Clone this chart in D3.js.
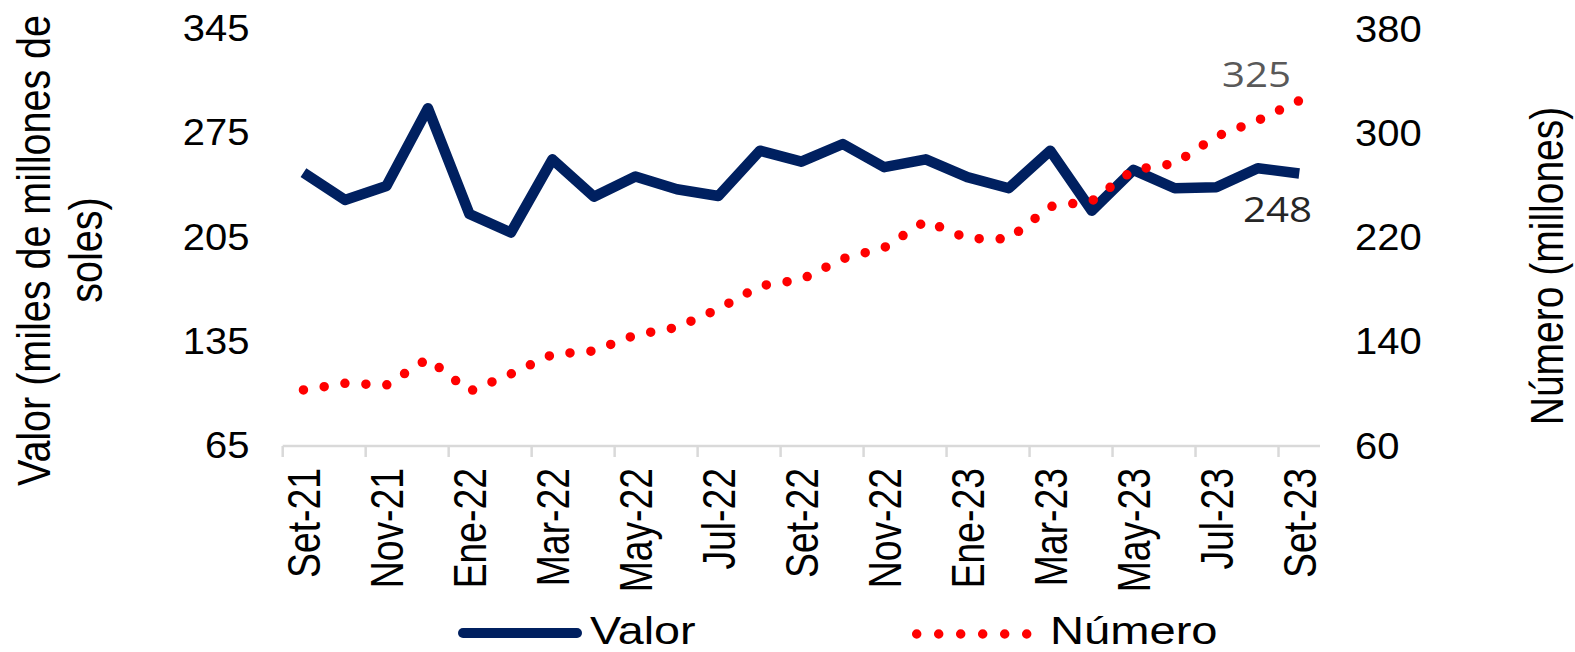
<!DOCTYPE html>
<html>
<head>
<meta charset="utf-8">
<script src="https://cdn.jsdelivr.net/npm/d3@7.9.0/dist/d3.min.js"></script>
<style>
  html, body { margin: 0; padding: 0; background: #fff; }
  svg { display: block; font-family: "Liberation Sans", Arial, sans-serif; }
</style>
</head>
<body>
<svg id="chart" width="1575" height="652"></svg>
<script>
// ====== DATA ======

const months = ['Set-21', 'Oct-21', 'Nov-21', 'Dic-21', 'Ene-22', 'Feb-22', 'Mar-22', 'Abr-22',
  'May-22', 'Jun-22', 'Jul-22', 'Ago-22', 'Set-22', 'Oct-22', 'Nov-22', 'Dic-22', 'Ene-23',
  'Feb-23', 'Mar-23', 'Abr-23', 'May-23', 'Jun-23', 'Jul-23', 'Ago-23', 'Set-23'];

// miles de millones de soles (eje izquierdo)
const valor = [248.5, 230.2, 239.6, 291.8, 220.8, 208.3, 257.5, 232.4, 245.9, 237.4, 232.9, 263.3,
  255.9, 267.8, 252.2, 257.5, 245.5, 238.1, 263.3, 223.0, 250.4, 238.1, 238.7, 251.5, 248];

// millones de operaciones (eje derecho)
const numero = [103, 108.1, 106.8, 127, 101.9, 115.3, 130.2, 133, 145.2, 151, 165.1, 182.8,
  187.8, 203.7, 212.3, 232.7, 219.2, 218.9, 243.8, 248, 271.8, 276.8, 297.5, 309.8, 325];

const leftTicks = [65, 135, 205, 275, 345];
const rightTicks = [60, 140, 220, 300, 380];

// ====== SCALES ======

const svg = d3.select('#chart');

const x = d3.scaleBand().domain(months).range([282.7, 1320]).padding(0);
const yL = d3.scaleLinear().domain([65, 345]).range([446, 29]);
const yR = d3.scaleLinear().domain([60, 380]).range([446, 29]);
const cx = (m) => x(m) + x.bandwidth() / 2;

// text with a horizontal stretch (the source picture is wider than tall)
function stretched(g, px, py, sx, rotate) {
  return g.append('text')
    .attr('transform', `translate(${px},${py}) scale(${sx},1)` + (rotate ? ' rotate(-90)' : ''));
}

// ====== X AXIS ======

const axis = svg.append('g');
axis.append('line')
  .attr('x1', x.range()[0]).attr('x2', x.range()[1])
  .attr('y1', 446).attr('y2', 446)
  .attr('stroke', '#d9d9d9').attr('stroke-width', 2.5);

const shown = months.filter((d, i) => i % 2 === 0);

axis.selectAll('line.tick')
  .data(shown)
  .join('line')
  .attr('class', 'tick')
  .attr('x1', (d) => x(d)).attr('x2', (d) => x(d))
  .attr('y1', 446).attr('y2', 457)
  .attr('stroke', '#d9d9d9').attr('stroke-width', 2.5);

shown.forEach((m) => {
  stretched(axis, cx(m) + 16.7, 468, 1.25, true)
    .attr('text-anchor', 'end')
    .attr('font-size', 37.3)
    .attr('fill', '#000')
    .text(m);
});

// ====== Y AXES (labels only) ======

leftTicks.forEach((t) => {
  stretched(svg, 249.5, yL(t) + 12, 1.08, false)
    .attr('text-anchor', 'end')
    .attr('font-size', 37)
    .text(t);
});

rightTicks.forEach((t) => {
  stretched(svg, 1355, yR(t) + 12.5, 1.08, false)
    .attr('text-anchor', 'start')
    .attr('font-size', 37)
    .text(t);
});

stretched(svg, 50, 250.5, 1.17, true)
  .attr('text-anchor', 'middle').attr('font-size', 39.5)
  .text('Valor (miles de millones de');
stretched(svg, 102, 250, 1.17, true)
  .attr('text-anchor', 'middle').attr('font-size', 39.5)
  .text('soles)');
stretched(svg, 1563, 266, 1.17, true)
  .attr('text-anchor', 'middle').attr('font-size', 39)
  .text('Número (millones)');

// ====== LINES ======

const lineL = d3.line().x((d, i) => cx(months[i])).y((d) => yL(d));
const lineR = d3.line().x((d, i) => cx(months[i])).y((d) => yR(d));

svg.append('path')
  .attr('d', lineL(valor))
  .attr('fill', 'none')
  .attr('stroke', '#002060')
  .attr('stroke-width', 10.5)
  .attr('stroke-linejoin', 'round');

svg.append('path')
  .attr('d', lineR(numero))
  .attr('fill', 'none')
  .attr('stroke', '#ff0000')
  .attr('stroke-width', 9.5)
  .attr('stroke-linecap', 'round')
  .attr('stroke-dasharray', '0 21');

// end labels
stretched(svg, 1222, 87, 1.15, false)
  .attr('font-family', '"Open Sans", sans-serif')
  .attr('font-size', 35).attr('fill', '#595959')
  .text(numero[numero.length - 1]);
stretched(svg, 1243, 222, 1.15, false)
  .attr('font-family', '"Open Sans", sans-serif')
  .attr('font-size', 35).attr('fill', '#262626')
  .text(valor[valor.length - 1]);

// ====== LEGEND ======

const legend = svg.append('g');
legend.append('line')
  .attr('x1', 463).attr('x2', 577).attr('y1', 633).attr('y2', 633)
  .attr('stroke', '#002060').attr('stroke-width', 10).attr('stroke-linecap', 'round');
stretched(legend, 590, 643.5, 1.23, false).attr('font-size', 38).text('Valor');

legend.append('line')
  .attr('x1', 916.7).attr('x2', 1027).attr('y1', 634).attr('y2', 634)
  .attr('stroke', '#ff0000').attr('stroke-width', 9.5)
  .attr('stroke-linecap', 'round').attr('stroke-dasharray', '0 22');
stretched(legend, 1050, 643.5, 1.24, false).attr('font-size', 38).text('Número');
</script>
</body>
</html>
